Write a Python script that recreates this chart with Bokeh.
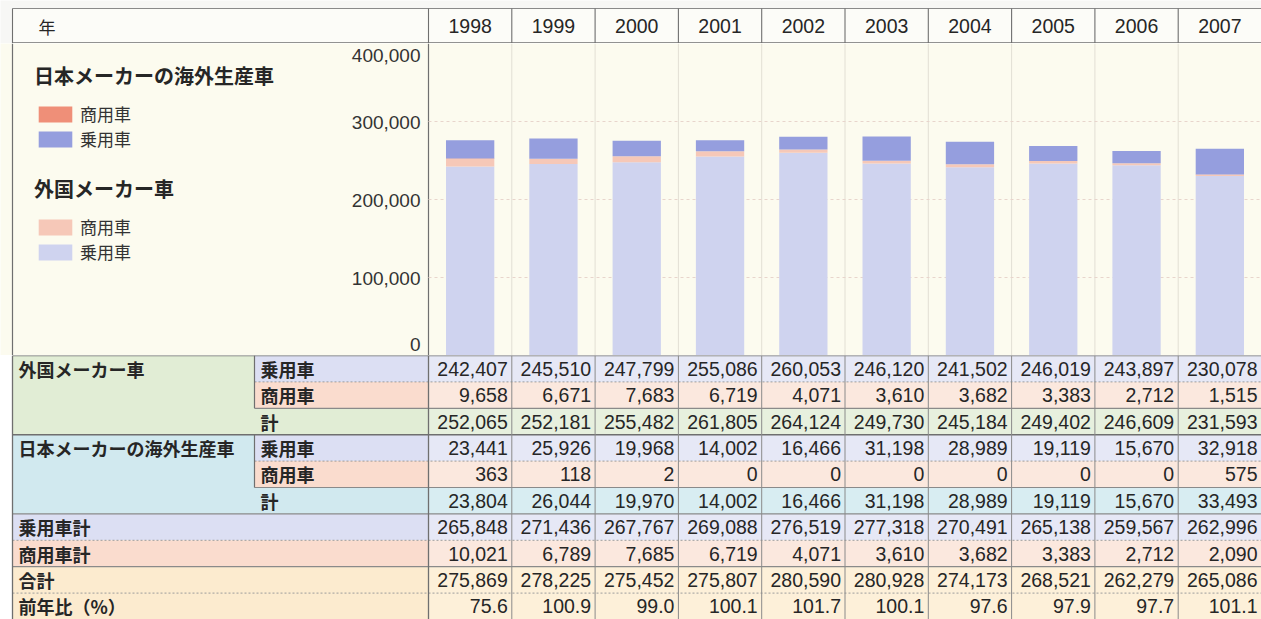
from bokeh.plotting import figure
from bokeh.layouts import column
from bokeh.models import Range1d, Legend, LegendItem, ColumnDataSource
from bokeh.core.properties import value
from bokeh.embed import file_html
from bokeh.resources import INLINE

# ---------------- data ----------------
years = [1998, 1999, 2000, 2001, 2002, 2003, 2004, 2005, 2006, 2007]
foreign_passenger = [242407, 245510, 247799, 255086, 260053, 246120, 241502, 246019, 243897, 230078]
foreign_commercial = [9658, 6671, 7683, 6719, 4071, 3610, 3682, 3383, 2712, 1515]
foreign_total = [252065, 252181, 255482, 261805, 264124, 249730, 245184, 249402, 246609, 231593]
jp_passenger = [23441, 25926, 19968, 14002, 16466, 31198, 28989, 19119, 15670, 32918]
jp_commercial = [363, 118, 2, 0, 0, 0, 0, 0, 0, 575]
jp_total = [23804, 26044, 19970, 14002, 16466, 31198, 28989, 19119, 15670, 33493]
passenger_total = [265848, 271436, 267767, 269088, 276519, 277318, 270491, 265138, 259567, 262996]
commercial_total = [10021, 6789, 7685, 6719, 4071, 3610, 3682, 3383, 2712, 2090]
grand_total = [275869, 278225, 275452, 275807, 280590, 280928, 274173, 268521, 262279, 265086]
yoy_pct = [75.6, 100.9, 99.0, 100.1, 101.7, 100.1, 97.6, 97.9, 97.7, 101.1]
y_ticks = [0, 100000, 200000, 300000, 400000]

group_labels = ["外国メーカー車", "日本メーカーの海外生産車", "乗用車計", "商用車計", "合計", "前年比（%）"]
sub_labels = ["乗用車", "商用車", "計"]
legend_titles = ["日本メーカーの海外生産車", "外国メーカー車"]
series_labels = ["商用車", "乗用車"]
header_label = "年"

# ---------------- layout / style ----------------
W = 1261
H_HEAD, H_CHART, H_TABLE = 43, 312, 264
TOP_GAP = 8
LABEL_PX = 428
CW = (W - LABEL_PX) / 10.0
X0 = -LABEL_PX / CW


def px(v):
    return X0 + v / CW


BORDER_X = px(12)
SUB_X = px(254)
JP = "Noto Sans CJK JP"
NUM = "Liberation Sans"
TXT = "#262626"
LINE = "#8a8a8a"
DARK = "#6f6f6f"

C_FP, C_FC, C_JC, C_JP = "#cfd3ef", "#f6c8b8", "#ef8f78", "#959ede"
LAV_L, LAV_D = "#dcdff3", "#e6e8f6"
PEA_L, PEA_D = "#fadcce", "#fbe8de"
GRN_L, GRN_D = "#e1edd5", "#e7f0de"
CYA_L, CYA_D = "#d1e9ef", "#d8edf2"
YEL_L, YEL_D = "#fcebcf", "#fdf0d9"


def base_fig(h, yr):
    p = figure(width=W, height=h, x_range=Range1d(X0, 10), y_range=yr,
               output_backend="svg", toolbar_location=None,
               x_axis_location=None, y_axis_location=None, min_border=0)
    p.grid.visible = False
    p.outline_line_color = None
    return p


xs_center = [i + 0.5 for i in range(len(years))]

# ---------------- header ----------------
HT = H_HEAD - TOP_GAP
ph = base_fig(H_HEAD, Range1d(0, H_HEAD))
ph.background_fill_color = "#f7f7f5"
ph.quad(left=BORDER_X, right=10, bottom=0, top=HT, fill_color="#fcfcf8", line_color=None)
ph.segment(x0=BORDER_X, x1=10, y0=HT, y1=HT, line_color=LINE, line_width=1.2)
ph.segment(x0=BORDER_X, x1=10, y0=0.6, y1=0.6, line_color=DARK, line_width=1.4)
vx = [BORDER_X] + list(range(0, 10))
ph.segment(x0=vx, x1=vx, y0=0, y1=HT, line_color=DARK, line_width=1.1)
ph.text(x=[px(38)], y=[HT / 2], text=[header_label], text_font=value(JP),
        text_font_size="17px", text_color=TXT, text_baseline="middle", text_align="left")
ph.text(x=xs_center, y=[HT / 2] * 10, text=[str(y) for y in years], text_font=value(NUM),
        text_font_size="19.5px", text_color=TXT, text_baseline="middle", text_align="center")

# ---------------- chart ----------------
pc = base_fig(H_CHART, Range1d(0, 400000))
pc.background_fill_color = "#fcfbef"
pc.segment(x0=list(range(1, 10)), x1=list(range(1, 10)), y0=0, y1=400000,
           line_color="#e2dfd4", line_width=1)
pc.segment(x0=[BORDER_X, 0], x1=[BORDER_X, 0], y0=0, y1=400000, line_color=DARK, line_width=1.2)
pc.segment(x0=0, x1=10, y0=y_ticks[1:4], y1=y_ticks[1:4], line_color="#e8d5cc",
           line_width=1, line_dash="3 3")

src = ColumnDataSource(dict(x=xs_center, fp=foreign_passenger, fc=foreign_commercial,
                            jc=jp_commercial, jpp=jp_passenger))
rends = pc.vbar_stack(["fp", "fc", "jc", "jpp"], x="x", width=0.58, source=src,
                      color=[C_FP, C_FC, C_JC, C_JP], line_color=None)

tick_txt = [f"{t:,}" for t in y_ticks]
tick_dy = [-11, 1, 1, 1, 12]
pc.text(x=[0] * 5, y=y_ticks, text=tick_txt, x_offset=-8, y_offset=tick_dy,
        text_font=value(NUM), text_font_size="19px", text_color="#333333",
        text_align="right", text_baseline="middle")


def make_legend(title, items, loc):
    lg = Legend(items=items, title=title, location=loc)
    lg.title_text_font = JP
    lg.title_text_font_size = "20px"
    lg.title_text_font_style = "bold"
    lg.title_text_color = TXT
    lg.title_standoff = 11
    lg.label_text_font = JP
    lg.label_text_font_size = "17px"
    lg.label_text_color = "#333333"
    lg.glyph_width = 42
    lg.glyph_height = 20
    lg.label_height = 15
    lg.label_standoff = 4
    lg.spacing = 0
    lg.padding = 0
    lg.margin = 0
    lg.border_line_color = None
    lg.background_fill_alpha = 0
    return lg


lg1 = make_legend(legend_titles[0], [LegendItem(label=value(series_labels[0]), renderers=[rends[2]]),
                                     LegendItem(label=value(series_labels[1]), renderers=[rends[3]])],
                  (34, 204))
lg2 = make_legend(legend_titles[1], [LegendItem(label=value(series_labels[0]), renderers=[rends[1]]),
                                     LegendItem(label=value(series_labels[1]), renderers=[rends[0]])],
                  (34, 91))
pc.add_layout(lg1)
pc.add_layout(lg2)

# ---------------- table ----------------
pt = base_fig(H_TABLE, Range1d(10, 0))
table_rows = [foreign_passenger, foreign_commercial, foreign_total,
              jp_passenger, jp_commercial, jp_total,
              passenger_total, commercial_total, grand_total, yoy_pct]
data_bg = [LAV_D, PEA_D, GRN_D, LAV_D, PEA_D, CYA_D, LAV_D, PEA_D, YEL_D, YEL_D]
n = len(table_rows)

lb_left = [BORDER_X, SUB_X, SUB_X, BORDER_X, SUB_X, SUB_X, BORDER_X, BORDER_X, BORDER_X, BORDER_X]
lb_top = [0, 0, 1, 3, 3, 4, 6, 7, 8, 9]
lb_bot = [3, 1, 2, 6, 4, 5, 7, 8, 9, 10]
lb_col = [GRN_L, LAV_L, PEA_L, CYA_L, LAV_L, PEA_L, LAV_L, PEA_L, YEL_L, YEL_L]
pt.quad(left=lb_left, right=[0] * 10, top=lb_top, bottom=lb_bot, fill_color=lb_col, line_color=None)
pt.quad(left=0, right=10, top=list(range(n)), bottom=list(range(1, n + 1)),
        fill_color=data_bg, line_color=None)

# horizontal rules
pt.segment(x0=[SUB_X, SUB_X, BORDER_X, BORDER_X], x1=10, y0=[2, 5, 6, 8], y1=[2, 5, 6, 8],
           line_color=LINE, line_width=1.2)
pt.segment(x0=BORDER_X, x1=10, y0=[0, 3], y1=[0, 3], line_color=DARK, line_width=1.4)
pt.segment(x0=[SUB_X, SUB_X, BORDER_X, BORDER_X], x1=10, y0=[1, 4, 7, 9], y1=[1, 4, 7, 9],
           line_color="#9c9c9c", line_width=1, line_dash="2 2")
# vertical rules
pt.segment(x0=list(range(1, 10)), x1=list(range(1, 10)), y0=0, y1=10, line_color=LINE, line_width=1)
pt.segment(x0=[BORDER_X, 0], x1=[BORDER_X, 0], y0=0, y1=10, line_color=DARK, line_width=1.3)
pt.segment(x0=SUB_X, x1=SUB_X, y0=[0, 3], y1=[2, 5], line_color=DARK, line_width=1.2)

# labels
g_rows = [0, 3, 6, 7, 8, 9]
pt.text(x=[px(18)] * len(g_rows), y=[r + 0.5 for r in g_rows], text=group_labels,
        text_font=value(JP), text_font_size="18px", text_font_style="bold",
        text_color=TXT, text_baseline="middle", text_align="left")
s_rows = [0, 1, 2, 3, 4, 5]
pt.text(x=[px(260)] * len(s_rows), y=[r + 0.5 for r in s_rows], text=sub_labels * 2,
        text_font=value(JP), text_font_size="18px", text_font_style="bold",
        text_color=TXT, text_baseline="middle", text_align="left")

# numbers
tx, ty, tt = [], [], []
for r, row in enumerate(table_rows):
    for i, v in enumerate(row):
        tx.append(i + 1)
        ty.append(r + 0.5)
        tt.append(f"{v:.1f}" if isinstance(v, float) else f"{v:,}")
pt.text(x=tx, y=ty, text=tt, x_offset=-4, text_font=value(NUM), text_font_size="19.5px",
        text_color=TXT, text_baseline="middle", text_align="right")

layout = column(ph, pc, pt, spacing=0)
open("out.html", "w").write(file_html(layout, INLINE))
